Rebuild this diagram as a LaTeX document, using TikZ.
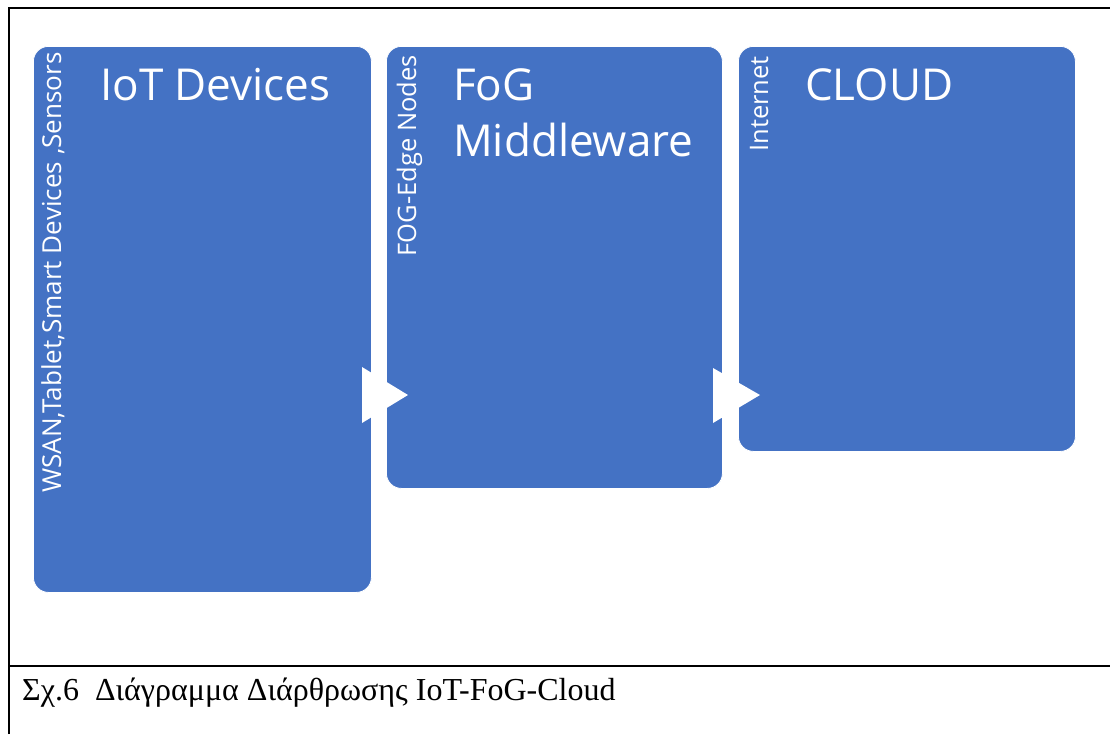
\documentclass[tikz,border=0pt]{standalone}
\usepackage{fontspec}
\setmainfont{Open Sans}
\newfontfamily\capfont{Liberation Serif}
\newfontfamily\boxfont{Open Sans}
\definecolor{offblue}{HTML}{4472C4}
\begin{document}
\begin{tikzpicture}[x=1pt,y=-1pt,
  box/.style={fill=offblue, draw=white, line width=0.8pt, rounded corners=15pt, anchor=north west, inner sep=0pt},
  title/.style={text=white, font=\boxfont\fontsize{44}{56}\selectfont, inner sep=0pt, anchor=base west},
  side/.style={text=white, font=\boxfont\fontsize{25.5}{28}\selectfont, inner sep=0pt, rotate=90, anchor=base east},
  tri/.style={fill=white},
  frame/.style={line width=2pt, black}]
\useasboundingbox (0,0) rectangle (1110,734);
% frame
\draw[frame] (9,734) -- (9,7.5) -- (1110,7.5);
\draw[frame] (9,665.5) -- (1110,665.5);
% boxes
\node[box, minimum width=338pt, minimum height=546pt] (iot) at (33,46) {};
\node[box, minimum width=336pt, minimum height=442pt] (fog) at (386,46) {};
\node[box, minimum width=337pt, minimum height=405pt] (cloud) at (738,46) {};
% arrows
\fill[tri] (362,367) -- (408,395) -- (362,423) -- cycle;
\fill[tri] (713,368) -- (760,395) -- (713,423) -- cycle;
% titles
\node[title] (t1) at (100,100) {IoT Devices};
\node[title] (t2a) at (453,100) {FoG};
\node[title] (t2b) at (453,156) {Middleware};
\node[title] (t3) at (805,100) {CLOUD};
% side texts
\node[side, font=\boxfont\fontsize{26.1}{28}\selectfont] (s1) at (61,52) {WSAN,Tablet,Smart Devices ,Sensors};
\node[side] (s2) at (416,55) {FOG-Edge Nodes};
\node[side] (s3) at (768,56) {Internet};
% caption
\node[font=\capfont\fontsize{32}{36}\selectfont, anchor=base west, inner sep=0pt] (cap) at (22,700) {Σχ.6\ \ Διάγραμμα Διάρθρωσης IoT-FoG-Cloud};
\end{tikzpicture}
\end{document}
